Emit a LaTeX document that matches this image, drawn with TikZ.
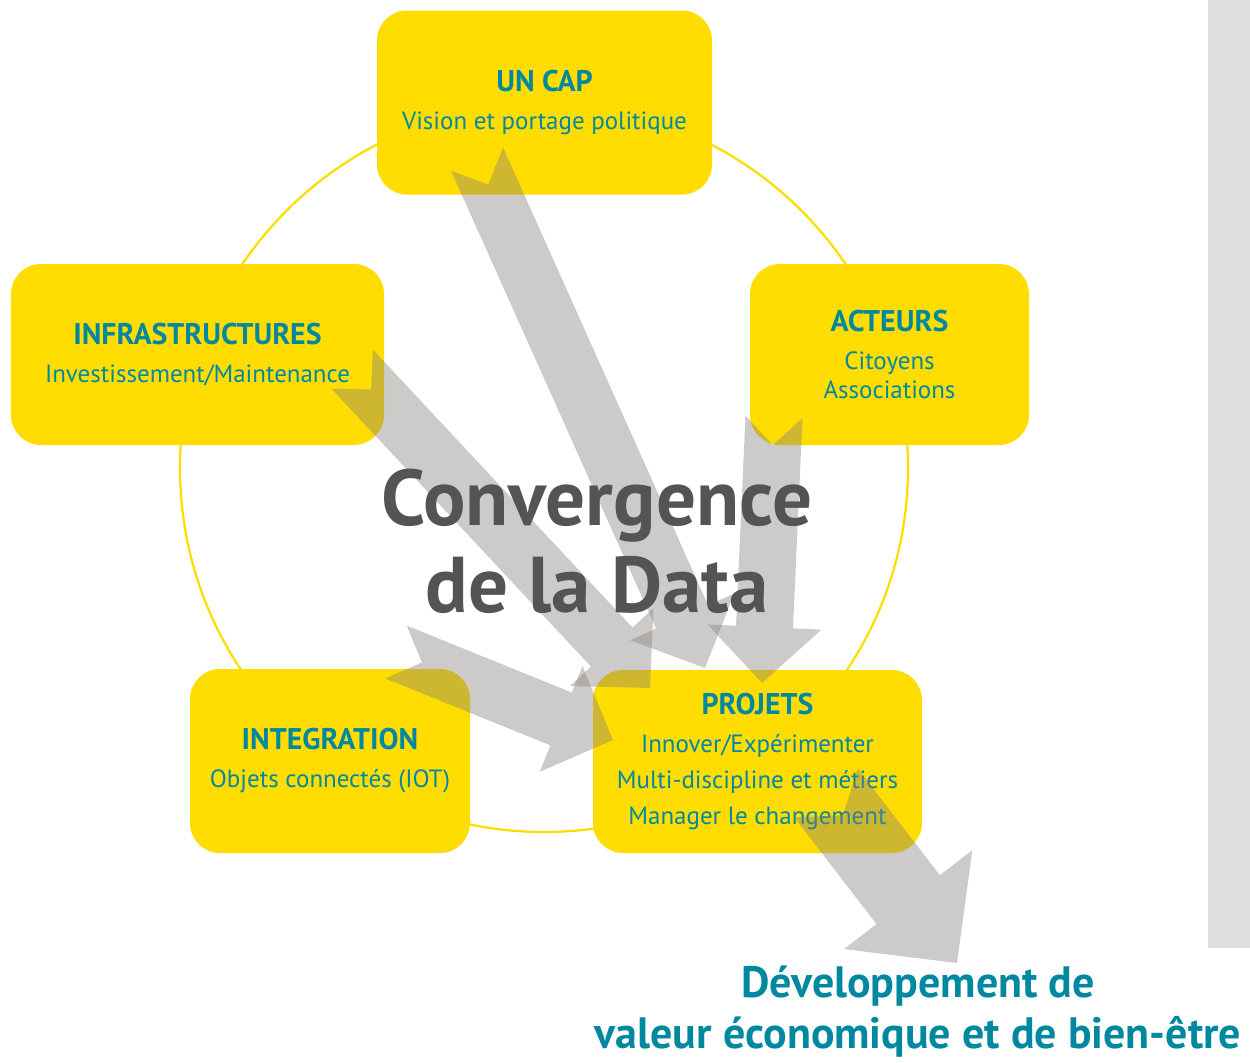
\documentclass[tikz,border=0pt]{standalone}
\usepackage{fontspec}
\setmainfont{PT Sans}
\usetikzlibrary{calc}
\definecolor{capyellow}{RGB}{255,221,0}
\definecolor{datateal}{RGB}{0,136,160}
\definecolor{datagray}{RGB}{84,84,84}
\definecolor{arrowgray}{RGB}{131,125,121}
\definecolor{bargray}{RGB}{222,222,222}
\newcommand{\poletitle}[1]{{\bfseries\fontsize{17}{16}\selectfont #1}}
% tail, tip, half width, head half width, head length, notch
\newcommand{\dataarrow}[6]{%
  \coordinate (hb) at ($(#2)!#5!(#1)$);
  \fill[arrowfill] ($(#1)!#3!90:(#2)$) -- ($(#1)!#6!(#2)$) -- ($(#1)!#3!-90:(#2)$)
    -- ($(hb)!#3!-90:(#2)$) -- ($(hb)!#4!-90:(#2)$) -- (#2)
    -- ($(hb)!#4!90:(#2)$) -- ($(hb)!#3!90:(#2)$) -- cycle;
}
\begin{document}
\begin{tikzpicture}[x=0.2mm,y=-0.2mm]
        \tikzstyle{pole}=[fill=capyellow,rounded corners=6mm,text=datateal,align=center,inner sep=0pt,font=\fontsize{14.2}{16}\selectfont];
        \tikzstyle{arrowfill}=[fill=arrowgray,fill opacity=0.4];
        \useasboundingbox (0,0) rectangle (1250,1062);
        \fill[bargray] (1208,0) rectangle (1250,948);
        \draw[capyellow,line width=0.45mm] (544,468) circle[radius=72.8mm];
        \node[pole,minimum width=67mm,minimum height=36.8mm] (cap) at (544.5,102.5)
            {\poletitle{UN CAP}\\[5.6pt] Vision et portage politique};
        \node[pole,minimum width=74.6mm,minimum height=36.2mm] (infra) at (197.5,354.5)
            {\poletitle{INFRASTRUCTURES}\\[5.6pt] Investissement/Maintenance};
        \node[pole,minimum width=55.8mm,minimum height=36.2mm] (acteurs) at (889.5,354.5)
            {\poletitle{ACTEURS}\\[5.6pt] Citoyens\\ Associations};
        \node[pole,minimum width=56mm,minimum height=36.8mm] (integ) at (330,761)
            {\poletitle{INTEGRATION}\\[5.6pt] Objets connectés (IOT)};
        \node[pole,minimum width=65.8mm,minimum height=36.6mm] (projets) at (757.5,761.5)
            {\poletitle{PROJETS}\\[5.6pt] Innover/Expérimenter\\[4.5pt] Multi-discipline et métiers\\[4.5pt] Manager le changement};
        %arrows
        \coordinate (cap-tail) at (477,159);
        \coordinate (cap-tip) at (705,668);
        \coordinate (infra-tail) at (352,369);
        \coordinate (infra-tip) at (650,688);
        \coordinate (acteurs-tail) at (774,417);
        \coordinate (acteurs-tip) at (762,683);
        \coordinate (integ-tail) at (396,652);
        \coordinate (integ-tip) at (613,740);
        \coordinate (out-tail) at (826,793);
        \coordinate (out-tip) at (957,963);
        \dataarrow{cap-tail}{cap-tip}{5.7mm}{11.4mm}{11.2mm}{5.6mm}
        \dataarrow{infra-tail}{infra-tip}{5.7mm}{11.4mm}{11.2mm}{5.6mm}
        \dataarrow{acteurs-tail}{acteurs-tip}{5.7mm}{11.4mm}{11.2mm}{5.6mm}
        \dataarrow{integ-tail}{integ-tip}{5.7mm}{11.4mm}{11.2mm}{5.6mm}
        \dataarrow{out-tail}{out-tip}{8mm}{16.2mm}{16mm}{5.6mm}
        \node[anchor=base,text=datagray,font=\bfseries\fontsize{45}{50}\selectfont] (conv) at (597,525) {Convergence};
        \node[anchor=base,text=datagray,font=\bfseries\fontsize{45}{50}\selectfont] (data) at (597,612) {de la Data};
        \node[anchor=base,text=datateal,font=\bfseries\fontsize{25}{30}\selectfont] (dev) at (918,997) {Développement de};
        \node[anchor=base,text=datateal,font=\bfseries\fontsize{25}{30}\selectfont] (valeur) at (918,1048) {valeur économique et de bien-être};
    \end{tikzpicture}
\end{document}
